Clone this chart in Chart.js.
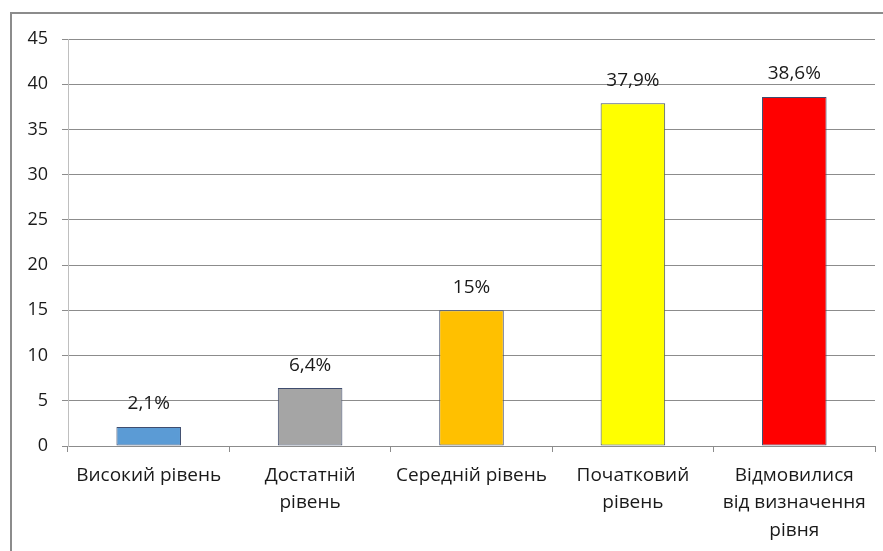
<!DOCTYPE html>
<html>
<head>
<meta charset="utf-8">
<script src="https://cdn.jsdelivr.net/npm/chart.js@4/dist/chart.umd.min.js"></script>
<style>
  html, body { margin: 0; padding: 0; background: #fff; }
  canvas { display: block; }
</style>
</head>
<body>
<canvas id="chart" width="883" height="551"></canvas>
<script>
const categories = [
    'Високий рівень',
    ['Достатній', 'рівень'],
    'Середній рівень',
    ['Початковий', 'рівень'],
    ['Відмовилися', 'від визначення', 'рівня']
];
const values = [2.1, 6.4, 15, 37.9, 38.6];
const valueLabels = ['2,1%', '6,4%', '15%', '37,9%', '38,6%'];
const barColors = ['#5b9bd5', '#a5a5a5', '#ffc000', '#ffff00', '#ff0000'];
const yTicks = [0, 5, 10, 15, 20, 25, 30, 35, 40, 45];

const FONT = '"Open Sans", "Noto Sans", sans-serif';

// outer frame like the pasted excel chart
const framePlugin = {
    id: 'frame',
    beforeDraw(chart) {
        const ctx = chart.ctx;
        ctx.save();
        ctx.strokeStyle = '#8c8c8c';
        ctx.lineWidth = 2;
        ctx.beginPath();
        ctx.moveTo(11, 551);
        ctx.lineTo(11, 13);
        ctx.lineTo(883, 13);
        ctx.stroke();
        ctx.restore();
    }
};

const valueLabelPlugin = {
    id: 'valueLabels',
    afterDatasetsDraw(chart) {
        const ctx = chart.ctx;
        const meta = chart.getDatasetMeta(0);
        ctx.save();
        ctx.font = '19px ' + FONT;
        ctx.fillStyle = '#1a1a1a';
        ctx.textAlign = 'center';
        ctx.textBaseline = 'middle';
        meta.data.forEach((bar, i) => {
            ctx.fillText(valueLabels[i], bar.x, bar.y - 23);
        });
        ctx.restore();
    }
};

new Chart(document.getElementById('chart').getContext('2d'), {
    type: 'bar',
    data: {
        labels: categories,
        datasets: [{
            data: values,
            backgroundColor: barColors,
            borderColor: '#3f4d6e',
            borderWidth: 1,
            borderSkipped: false,
            categoryPercentage: 1,
            barPercentage: 0.4
        }]
    },
    options: {
        responsive: false,
        animation: false,
        events: [],
        layout: { padding: { top: 39, right: 8, left: 0, bottom: 0 } },
        plugins: {
            legend: { display: false },
            tooltip: { enabled: false }
        },
        scales: {
            x: {
                afterFit: (scale) => { scale.height = 105; },
                grid: {
                    drawOnChartArea: false,
                    offset: true,
                    color: '#8c8c8c',
                    tickLength: 6
                },
                border: { color: '#8c8c8c' },
                ticks: {
                    color: '#1a1a1a',
                    font: { family: FONT, size: 19, lineHeight: 1.44 },
                    padding: 10,
                    maxRotation: 0,
                    autoSkip: false
                }
            },
            y: {
                min: 0,
                max: 45,
                afterFit: (scale) => { scale.width = 68; },
                afterBuildTicks: (scale) => { scale.ticks = yTicks.map(v => ({ value: v })); },
                grid: {
                    color: '#8c8c8c',
                    tickLength: 6
                },
                border: { color: '#bfbfbf' },
                ticks: {
                    color: '#1a1a1a',
                    font: { family: FONT, size: 18 },
                    padding: 14
                }
            }
        }
    },
    plugins: [framePlugin, valueLabelPlugin]
});
</script>
</body>
</html>
